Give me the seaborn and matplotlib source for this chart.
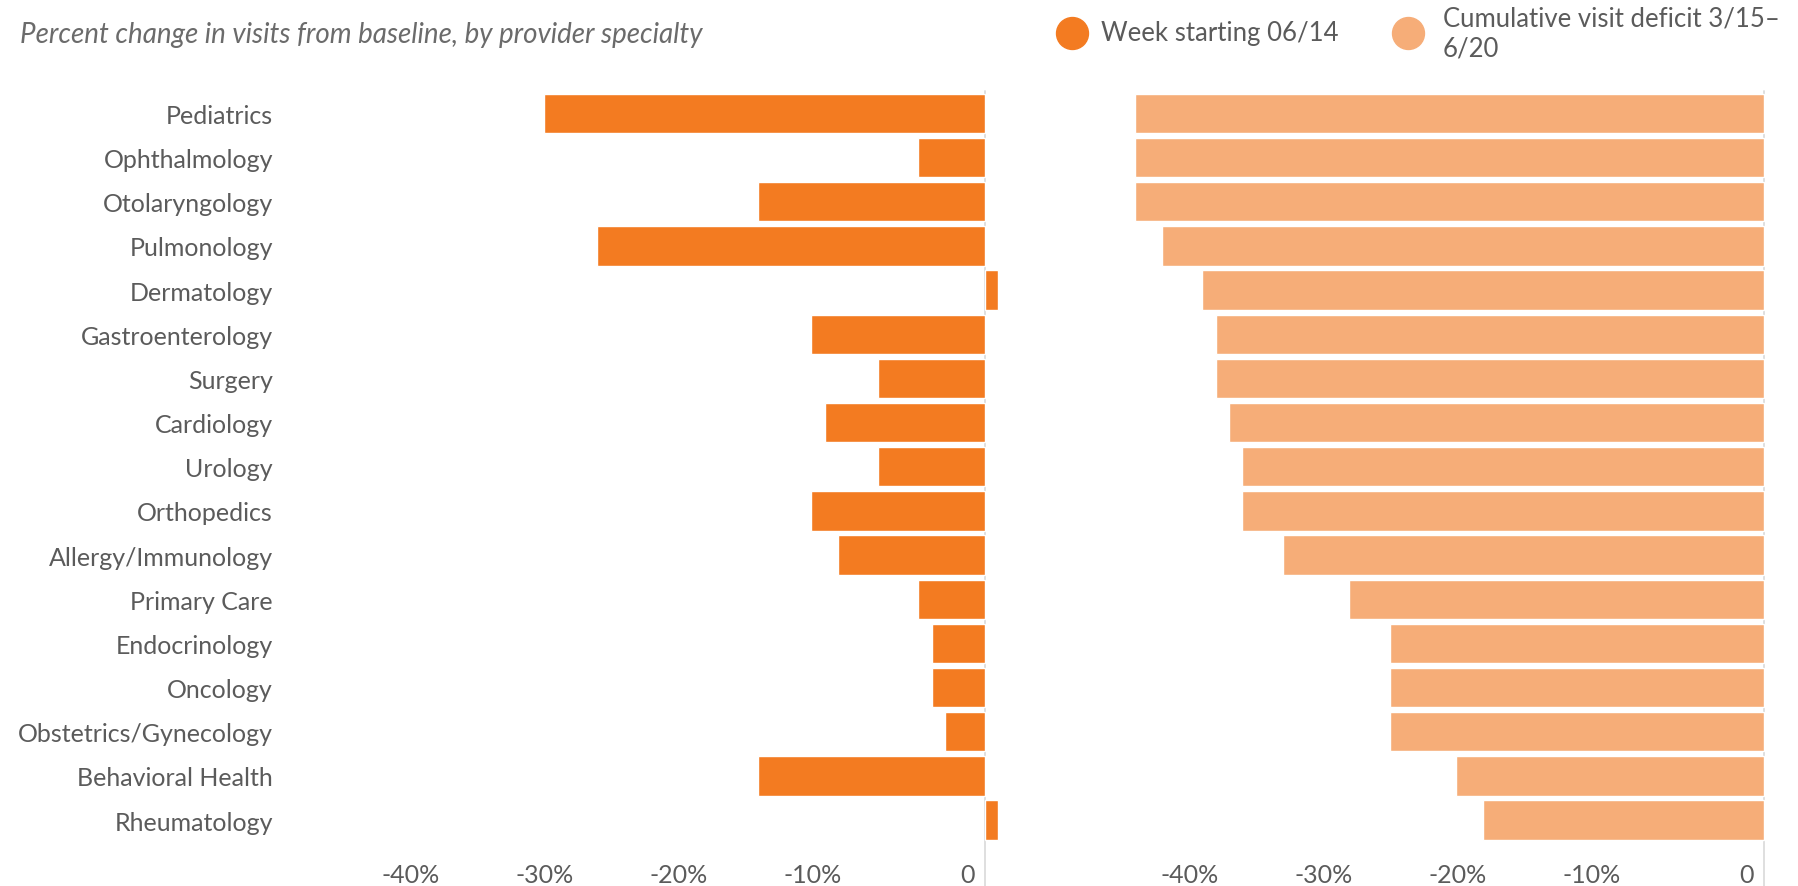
import matplotlib
matplotlib.use("Agg")
import matplotlib.pyplot as plt
import matplotlib.transforms as mtransforms
from matplotlib.lines import Line2D
import seaborn as sns
import pandas as pd

# --- data -------------------------------------------------------------
specialties = [
    "Pediatrics", "Ophthalmology", "Otolaryngology", "Pulmonology",
    "Dermatology", "Gastroenterology", "Surgery", "Cardiology", "Urology",
    "Orthopedics", "Allergy/Immunology", "Primary Care", "Endocrinology",
    "Oncology", "Obstetrics/Gynecology", "Behavioral Health", "Rheumatology",
]
week_change = [-33, -5, -17, -29, 1, -13, -8, -12, -8, -13, -11, -5, -4, -4, -3, -17, 1]
cumulative_deficit = [-47, -47, -47, -45, -42, -41, -41, -40, -39, -39, -36, -31,
                      -28, -28, -28, -23, -21]
tick_values = [-40, -30, -20, -10, 0]
tick_labels = ["-40%", "-30%", "-20%", "-10%", "0"]
title_text = "Percent change in visits from baseline, by provider specialty"
legend_labels = ["Week starting 06/14", "Cumulative visit deficit 3/15\u2013\n6/20"]

df = pd.DataFrame({
    "specialty": specialties,
    "week": week_change,
    "cumulative": cumulative_deficit,
})

# --- style ------------------------------------------------------------
sns.set_theme(style="white")
plt.rcParams["font.family"] = ["Lato", "DejaVu Sans"]

DARK = "#F37B21"
LIGHT = "#F6AD78"
TEXT = "#5b5b5b"
ZERO_LINE = "#dcdcdc"

W, H = 1798, 887
DPI = 100
fig = plt.figure(figsize=(W / DPI, H / DPI), dpi=DPI)
fig.patch.set_facecolor("white")


def px_axes(x0, x1, y0, y1):
    return fig.add_axes([x0 / W, 1 - y1 / H, (x1 - x0) / W, (y1 - y0) / H])


TOP, BOTTOM = 92.4, 843.1
PX_PER_UNIT = 13.375

panels = [
    # (axes left px, axes right px, zero px, column, colour)
    (300, 1010, 985, "week", DARK),
    (1100, 1790, 1764, "cumulative", LIGHT),
]

axes = []
for i, (x0, x1, zero_px, col, color) in enumerate(panels):
    ax = px_axes(x0, x1, TOP, BOTTOM)
    sns.barplot(data=df, y="specialty", x=col, color=color, saturation=1,
                width=0.89, orient="h", ax=ax, zorder=2)
    ax.set_xlim((x0 - zero_px) / PX_PER_UNIT, (x1 - zero_px) / PX_PER_UNIT)
    ax.set_ylim(len(specialties) - 0.5, -0.5)
    ax.set_xlabel("")
    ax.set_ylabel("")
    for s in ax.spines.values():
        s.set_visible(False)
    ax.set_facecolor("none")

    # zero reference line running down through the tick-label row
    ext = (H - BOTTOM) / (BOTTOM - TOP)
    ax.axvline(0, ymin=-ext, ymax=1, color=ZERO_LINE, lw=1.3,
               clip_on=False, zorder=1)

    ax.set_xticks(tick_values)
    ax.set_xticklabels(tick_labels)
    ax.tick_params(axis="x", length=0, pad=15, labelsize=18, labelcolor=TEXT)
    shift = mtransforms.ScaledTranslation(-10 / DPI, 0, fig.dpi_scale_trans)
    for lab in ax.get_xticklabels():
        lab.set_horizontalalignment("right")
        lab.set_transform(lab.get_transform() + shift)

    if i == 0:
        ax.tick_params(axis="y", length=0, pad=19.4, labelsize=18,
                       labelcolor=TEXT)
    else:
        ax.tick_params(axis="y", length=0, labelleft=False)
    axes.append(ax)

# --- title ------------------------------------------------------------
fig.text(20 / W, 1 - 35 / H, title_text, ha="left", va="center",
         style="italic", fontsize=20, color="#6b6b6b")

# --- legend -----------------------------------------------------------
legend_items = [
    (1072, 1101, DARK, legend_labels[0]),
    (1408, 1443, LIGHT, legend_labels[1]),
]
for mx, tx, color, label in legend_items:
    fig.add_artist(Line2D([mx / W], [1 - 34 / H], marker="o", ls="",
                          markersize=23, color=color,
                          transform=fig.transFigure))
    fig.text(tx / W, 1 - 34 / H, label, ha="left", va="center",
             fontsize=18.5, color=TEXT, linespacing=1.25)

fig.savefig("out.png", dpi=DPI, facecolor="white")
